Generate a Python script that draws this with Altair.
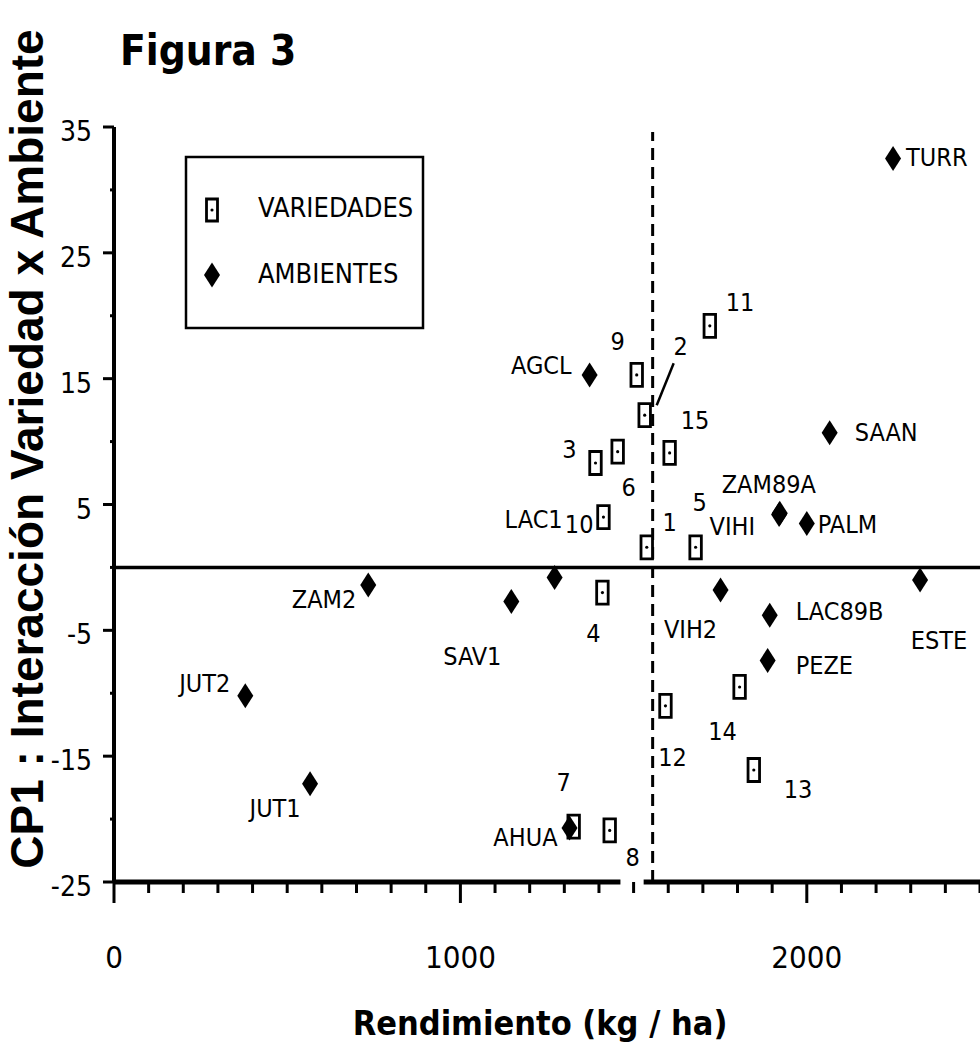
import altair as alt
import pandas as pd

# ---------------- data ----------------
amb_names = ["TURR", "AGCL", "SAAN", "ZAM89A", "VIHI", "PALM", "ESTE", "LAC89B",
             "PEZE", "VIH2", "ZAM2", "SAV1", "LAC1", "JUT2", "JUT1", "AHUA"]
amb_yield = [2249, 1373, 2066, 1922, 1920, 2000, 2327, 1893,
             1887, 1751, 734, 1147, 1272, 379, 566, 1315]
amb_cp1 = [32.5, 15.3, 10.7, 4.3, 4.2, 3.5, -1.0, -3.8,
           -7.4, -1.8, -1.4, -2.7, -0.8, -10.2, -17.2, -20.7]

var_names = ["1", "2", "3", "4", "5", "6", "7", "8", "9", "10", "11", "12", "13", "14", "15"]
var_yield = [1538, 1532, 1390, 1410, 1679, 1454, 1327, 1431, 1509, 1413, 1720, 1592, 1847, 1806, 1604]
var_cp1 = [1.6, 12.1, 8.3, -2.0, 1.6, 9.2, -20.6, -20.9, 15.3, 4.0, 19.2, -11.0, -16.1, -9.5, 9.1]

mean_yield = 1555
x_ticks = list(range(0, 2501, 100))
y_ticks = list(range(-25, 36, 5))
x_major = [0, 1000, 2000]
y_major = [-25, -15, -5, 5, 15, 25, 35]
legend_items = ["VARIEDADES", "AMBIENTES"]
x_title = "Rendimiento (kg / ha)"
y_title = "CP1 : Interacción Variedad x Ambiente"
fig_title = "Figura 3"

# ---------------- layout / style ----------------
W, H = 866, 755
X_DOM, Y_DOM = [0, 2500], [-25, 35]
PXX = W / (X_DOM[1] - X_DOM[0])
PXY = H / (Y_DOM[1] - Y_DOM[0])
NARROW = "Liberation Sans Narrow, DejaVu Sans Condensed, Arial Narrow, sans-serif"
WIDE = "Liberation Sans, Arial, sans-serif"

# label placement in pixels: (dx, dy, align) relative to the marker
AMB_OFF = {"TURR": (13, 0, "left"), "AGCL": (-18, -9, "right"), "SAAN": (25, 0, "left"),
           "ZAM89A": (-11, -28, "center"), "VIHI": (-24, 12, "right"), "PALM": (11, 2, "left"),
           "ESTE": (19, 61, "center"), "LAC89B": (26, -3, "left"), "PEZE": (28, 5, "left"),
           "VIH2": (-30, 40, "center"), "ZAM2": (-12, 15, "right"), "SAV1": (-39, 56, "center"),
           "LAC1": (-21, -57, "center"), "JUT2": (-15, -12, "right"), "JUT1": (-35, 25, "center"),
           "AHUA": (-12, 10, "right")}
VAR_OFF = {"1": (23, -24, "center"), "2": (36, -68, "center"), "3": (-26, -13, "center"),
           "4": (-9, 41, "center"), "5": (4, -44, "center"), "6": (11, 36, "center"),
           "7": (-10, -44, "center"), "8": (23, 28, "center"), "9": (-19, -33, "center"),
           "10": (-10, 8, "right"), "11": (16, -23, "left"), "12": (7, 52, "center"),
           "13": (30, 20, "left"), "14": (-17, 45, "center"), "15": (11, -32, "left")}
LEADER_2 = ((12, -10), (29, -52))

RECT_SHAPE = "M-0.5,-1L0.5,-1L0.5,1L-0.5,1Z"
DIAMOND_SHAPE = "M0,-1L0.64,0L0,1L-0.64,0Z"

amb = pd.DataFrame({"name": amb_names, "x": amb_yield, "y": amb_cp1})
var = pd.DataFrame({"name": var_names, "x": var_yield, "y": var_cp1})


def add_labels(df, off):
    d = df.copy()
    d["lx"] = [x + off[n][0] / PXX for n, x in zip(d["name"], d["x"])]
    d["ly"] = [y - off[n][1] / PXY for n, y in zip(d["name"], d["y"])]
    d["al"] = [off[n][2] for n in d["name"]]
    return d


labels = pd.concat([add_labels(amb, AMB_OFF), add_labels(var, VAR_OFF)], ignore_index=True)

xs = alt.Scale(domain=X_DOM, nice=False, zero=False)
ys = alt.Scale(domain=Y_DOM, nice=False, zero=False)


def X(f):
    return alt.X(f, type="quantitative", scale=xs, axis=None)


def Y(f):
    return alt.Y(f, type="quantitative", scale=ys, axis=None)


one = pd.DataFrame({"a": [0]})

# ---------------- reference lines ----------------
zero = alt.Chart(pd.DataFrame({"x": [X_DOM[0]], "x2": [X_DOM[1]], "y": [0]})).mark_rule(
    color="black", strokeWidth=3.5).encode(x=X("x"), x2="x2:Q", y=Y("y"))

mean_line = alt.Chart(pd.DataFrame({"x": [mean_yield], "y": [-25], "y2": [34.6]})).mark_rule(
    color="black", strokeWidth=3, strokeDash=[12, 7]).encode(x=X("x"), y=Y("y"), y2="y2:Q")

# ---------------- axes (hand drawn) ----------------
yaxis_line = alt.Chart(pd.DataFrame({"x": [0], "y": [Y_DOM[0]], "y2": [Y_DOM[1]]})).mark_rule(
    color="black", strokeWidth=4).encode(x=X("x"), y=Y("y"), y2="y2:Q")
xaxis_line = alt.Chart(pd.DataFrame({"x": [0, 1529], "x2": [1462, 2500], "y": [-25, -25]})).mark_rule(
    color="black", strokeWidth=5).encode(x=X("x"), x2="x2:Q", y=Y("y"))

x_minor = [v for v in x_ticks if v not in x_major]
y_minor = [v for v in y_ticks if v not in y_major]

x_minor_ticks = alt.Chart(pd.DataFrame({"x": x_minor, "y": [-25] * len(x_minor)})).mark_rule(
    color="black", strokeWidth=3).encode(x=X("x"), y=Y("y"), y2=alt.value(H + 11))
x_major_ticks = alt.Chart(pd.DataFrame({"x": x_major, "y": [-25] * len(x_major)})).mark_rule(
    color="black", strokeWidth=3).encode(x=X("x"), y=Y("y"), y2=alt.value(H + 21))
y_minor_ticks = alt.Chart(pd.DataFrame({"y": y_minor, "x": [0] * len(y_minor)})).mark_rule(
    color="black", strokeWidth=3).encode(y=Y("y"), x=X("x"), x2=alt.value(-4))
y_major_ticks = alt.Chart(pd.DataFrame({"y": y_major, "x": [0] * len(y_major)})).mark_rule(
    color="black", strokeWidth=3).encode(y=Y("y"), x=X("x"), x2=alt.value(-11))

x_tick_labels = alt.Chart(pd.DataFrame({"x": x_major, "t": [str(v) for v in x_major]})).mark_text(
    font=NARROW, fontSize=31, color="black", align="center", baseline="alphabetic").encode(
    x=X("x"), y=alt.value(H + 86), text="t:N")
y_tick_labels = alt.Chart(pd.DataFrame({"y": y_major, "t": [str(v) for v in y_major]})).mark_text(
    font=NARROW, fontSize=28, color="black", align="right", baseline="middle", dy=6).encode(
    y=Y("y"), x=alt.value(-22), text="t:N")

x_title_t = alt.Chart(one).mark_text(text=x_title, font=NARROW, fontSize=34, fontWeight="bold",
                                     color="black", align="center", baseline="alphabetic").encode(
    x=alt.value(426), y=alt.value(908))
y_title_t = alt.Chart(one).mark_text(text=y_title, font=WIDE, fontSize=46, fontWeight="bold",
                                     color="black", align="center", baseline="middle",
                                     angle=270).encode(x=alt.value(-85), y=alt.value(322))

# ---------------- data marks ----------------
r2 = var[var["name"] == "2"].iloc[0]
leader = alt.Chart(pd.DataFrame({
    "x": [r2["x"] + LEADER_2[0][0] / PXX], "y": [r2["y"] - LEADER_2[0][1] / PXY],
    "x2": [r2["x"] + LEADER_2[1][0] / PXX], "y2": [r2["y"] - LEADER_2[1][1] / PXY]})).mark_rule(
    color="black", strokeWidth=2.5).encode(x=X("x"), y=Y("y"), x2="x2:Q", y2="y2:Q")

diamonds = alt.Chart(amb).mark_point(shape=DIAMOND_SHAPE, filled=True, color="black",
                                     size=625, opacity=1).encode(x=X("x"), y=Y("y"))
squares = alt.Chart(var).mark_point(shape=RECT_SHAPE, filled=True, fill="white",
                                    stroke="black", strokeWidth=2.8, size=529,
                                    opacity=1).encode(x=X("x"), y=Y("y"))
dots = alt.Chart(var).mark_point(shape="circle", filled=True, color="black", size=10,
                                 opacity=1).encode(x=X("x"), y=Y("y"))

label_layers = []
for al in ["left", "center", "right"]:
    sub = labels[labels["al"] == al]
    label_layers.append(
        alt.Chart(sub).mark_text(font=NARROW, fontSize=25, color="black",
                                 align=al, baseline="middle").encode(
            x=X("lx"), y=Y("ly"), text="name:N"))

# ---------------- legend (hand drawn) ----------------
legend_box = alt.Chart(one).mark_rect(fill="white", stroke="black", strokeWidth=2.5).encode(
    x=alt.value(72), x2=alt.value(309), y=alt.value(30), y2=alt.value(201))
leg_sq = alt.Chart(one).mark_point(shape=RECT_SHAPE, filled=True, fill="white", stroke="black",
                                   strokeWidth=2.8, size=484, opacity=1).encode(
    x=alt.value(98), y=alt.value(83))
leg_dot = alt.Chart(one).mark_point(shape="circle", filled=True, color="black", size=10,
                                    opacity=1).encode(x=alt.value(98), y=alt.value(83))
leg_dia = alt.Chart(one).mark_point(shape=DIAMOND_SHAPE, filled=True, color="black",
                                    size=625, opacity=1).encode(x=alt.value(98), y=alt.value(148))
leg_t1 = alt.Chart(one).mark_text(text=legend_items[0], font=NARROW, fontSize=27, color="black",
                                  align="left", baseline="alphabetic").encode(
    x=alt.value(144), y=alt.value(90))
leg_t2 = alt.Chart(one).mark_text(text=legend_items[1], font=NARROW, fontSize=27, color="black",
                                  align="left", baseline="alphabetic").encode(
    x=alt.value(144), y=alt.value(156))

title = alt.Chart(one).mark_text(text=fig_title, font=NARROW, fontSize=42, fontWeight="bold",
                                 color="black", align="left", baseline="alphabetic").encode(
    x=alt.value(6), y=alt.value(-62))

chart = alt.layer(
    zero, mean_line, yaxis_line, xaxis_line,
    x_minor_ticks, x_major_ticks, y_minor_ticks, y_major_ticks,
    x_tick_labels, y_tick_labels, x_title_t, y_title_t,
    leader, squares, dots, diamonds, *label_layers,
    legend_box, leg_sq, leg_dot, leg_dia, leg_t1, leg_t2, title
).properties(
    width=W, height=H,
    autosize=alt.AutoSizeParams(type="none"),
    padding={"left": 114, "top": 127, "right": 0, "bottom": 168},
    background="white"
).configure_view(stroke=None)

chart.save("out.html", embed_options={"renderer": "svg", "actions": False})
